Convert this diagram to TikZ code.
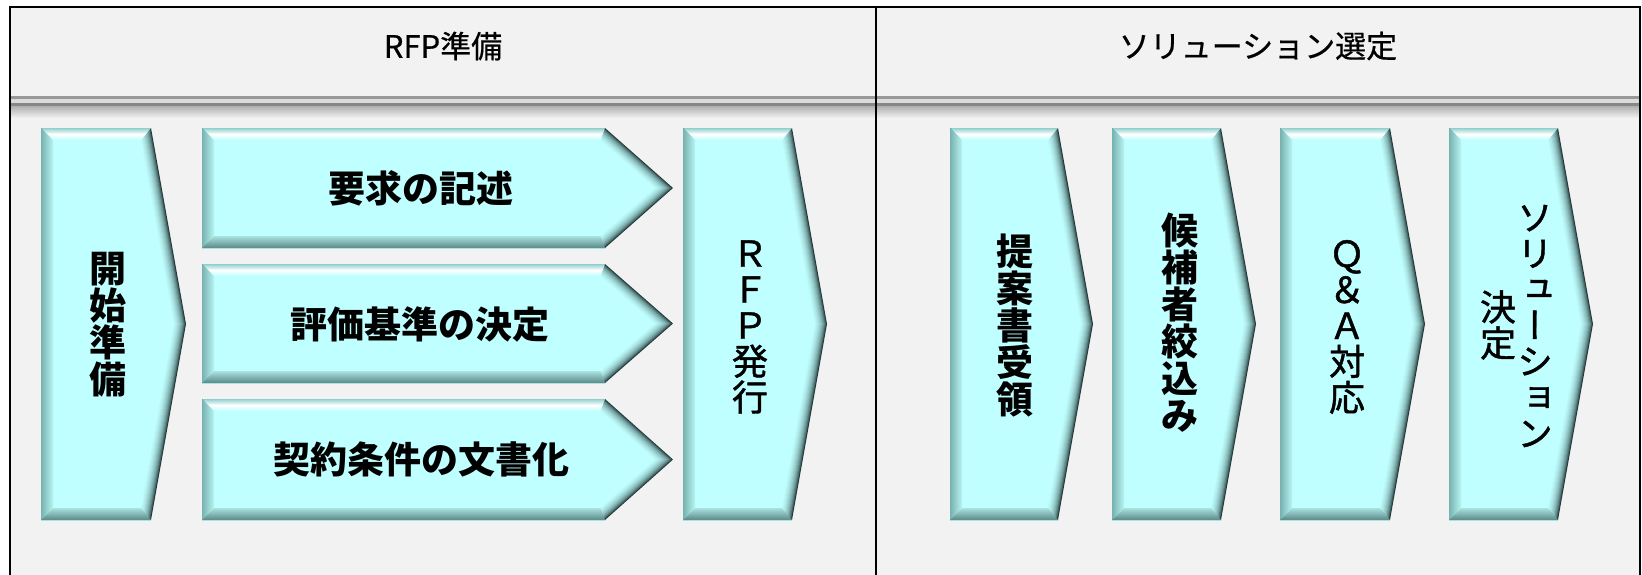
\documentclass[tikz,border=0pt]{standalone}
\usepackage{fontspec}
\newfontfamily\jp{Noto Sans CJK JP}
\newfontfamily\jpm{Noto Sans CJK JP}[FakeBold=1.2]
\newfontfamily\jph{Noto Sans CJK JP}[FakeBold=0.6]
\newfontfamily\jpv{Noto Sans CJK JP}[RawFeature=+vert, FakeBold=1.2]
\usetikzlibrary{calc}
\definecolor{cyfill}{HTML}{C0FFFF}
\definecolor{cydark}{HTML}{223A3A}
\definecolor{bgray}{HTML}{F2F2F2}
\definecolor{toplite}{HTML}{8FD0CD}
\definecolor{botdark}{HTML}{5A8886}
\definecolor{botlite}{HTML}{A9E2E0}
\definecolor{leftdark}{HTML}{78B2B0}
\definecolor{leftlite}{HTML}{B6F4F2}
\tikzset{
  bigtxt/.style={align=center, inner sep=0pt, font={\jp\bfseries\fontsize{37pt}{37pt}\selectfont}},
  regtxt/.style={align=center, inner sep=0pt, font={\jpm\fontsize{36pt}{36pt}\selectfont}},
  headtxt/.style={inner sep=0pt, font={\jph\fontsize{31pt}{31pt}\selectfont}},
}
% bevelled chevron: x0, y0, x1 (end of body), xt (tip), y1, name
\newcommand\bevelchev[6]{%
  \pgfmathsetmacro\Xa{#1}\pgfmathsetmacro\Ya{#2}%
  \pgfmathsetmacro\Xb{#3}\pgfmathsetmacro\Xt{#4}\pgfmathsetmacro\Yb{#5}%
  \pgfmathsetmacro\Ym{(\Ya+\Yb)/2}%
  \pgfmathsetmacro\Ca{\Xt-\Xb}\pgfmathsetmacro\Hh{(\Yb-\Ya)/2}%
  \pgfmathsetmacro\Ll{veclen(\Ca,\Hh)}%
  \pgfmathsetmacro\Kb{\Ca*(1-\Ca/\Ll)/\Hh-\Hh/\Ll}%
  \pgfmathsetmacro\Kt{\Ll/\Hh}%
  \foreach \s/\pc in {0/0,1/22,2/37,3/49,4/59,5/67,6/74,7/80,8/86,9/90,10/94,11/97,12/100}{%
    \fill[cyfill!\pc!cydark] ({\Xa+\s},{\Ya+\s}) -- ({\Xb+\Kb*\s},{\Ya+\s}) -- ({\Xt-\Kt*\s},\Ym)
      -- ({\Xb+\Kb*\s},{\Yb-\s}) -- ({\Xa+\s},{\Yb-\s}) -- cycle;
  }%
  \shade[top color=toplite, bottom color=cyfill, middle color=white]
    (\Xa,\Ya) -- (\Xb,\Ya) -- ({\Xb+\Kb*12},{\Ya+12}) -- ({\Xa+12},{\Ya+12}) -- cycle;
  \shade[top color=botlite, bottom color=botdark]
    (\Xa,\Yb) -- (\Xb,\Yb) -- ({\Xb+\Kb*12},{\Yb-12}) -- ({\Xa+12},{\Yb-12}) -- cycle;
  \shade[left color=leftdark, right color=leftlite]
    (\Xa,\Ya) -- ({\Xa+12},{\Ya+12}) -- ({\Xa+12},{\Yb-12}) -- (\Xa,\Yb) -- cycle;
  \draw[botlite, line width=0.6pt] (\Xa,\Yb) -- (\Xb,\Yb);
  \coordinate (#6) at ({(\Xa+\Xb)/2},\Ym);
}
\begin{document}
\begin{tikzpicture}[x=1pt, y=-1pt]
\useasboundingbox (0,0) rectangle (1642,574);
\clip (0,0) rectangle (1642,574);
\fill[white] (0,0) rectangle (1642,574);
% panel background
\fill[bgray] (10,7) rectangle (1640,600);
% header separator
\fill[black!40] (10,95.5) rectangle (1640,99);
\fill[black!14] (10,99) rectangle (1640,102.5);
\fill[black!47] (10,102.5) rectangle (1640,106.5);
\shade[top color=black!30, bottom color=bgray] (10,106.5) rectangle (1640,118);
% frame and divider
\draw[line width=2.5pt] (10,600) -- (10,7) -- (1640,7) -- (1640,600);
\draw[line width=2.2pt] (876,7) -- (876,600);
% headers
\node[headtxt] (h1) at (443,46) {RFP準備};
\node[headtxt] (h2) at (1258,46) {ソリューション選定};
% shapes
\bevelchev{41}{128}{151}{186}{520}{c1}
\bevelchev{202}{128}{605}{673}{248}{s1}
\bevelchev{202}{264}{605}{673}{383}{s2}
\bevelchev{202}{399}{605}{673}{520}{s3}
\bevelchev{683}{128}{792}{827}{520}{c2}
\bevelchev{950}{128}{1058}{1093}{520}{c3}
\bevelchev{1112}{128}{1221}{1256}{520}{c4}
\bevelchev{1280}{128}{1390}{1425}{520}{c5}
\bevelchev{1449}{128}{1558}{1593}{520}{c6}
% texts
\node[bigtxt] (t1) at (108,325) {開\\始\\準\\備};
\node[bigtxt] (t2) at (421,188) {要求の記述};
\node[bigtxt] (t3) at (420,324) {評価基準の決定};
\node[bigtxt] (t4) at (421,459) {契約条件の文書化};
\node[regtxt] (t5) at (750,327) {Ｒ\\Ｆ\\Ｐ\\発\\行};
\node[bigtxt] (t6) at (1015,326) {提\\案\\書\\受\\領};
\node[bigtxt] (t7) at (1180,323) {候\\補\\者\\絞\\込\\み};
\node[regtxt] (t8) at (1347,327) {Ｑ\\＆\\Ａ\\対\\応};
\node[regtxt, font={\jpv\fontsize{36pt}{36pt}\selectfont}] (t9) at (1535,326) {ソ\\リ\\ュ\\ー\\シ\\ョ\\ン};
\node[regtxt] (t10) at (1498,325) {決\\定};
\end{tikzpicture}
\end{document}
